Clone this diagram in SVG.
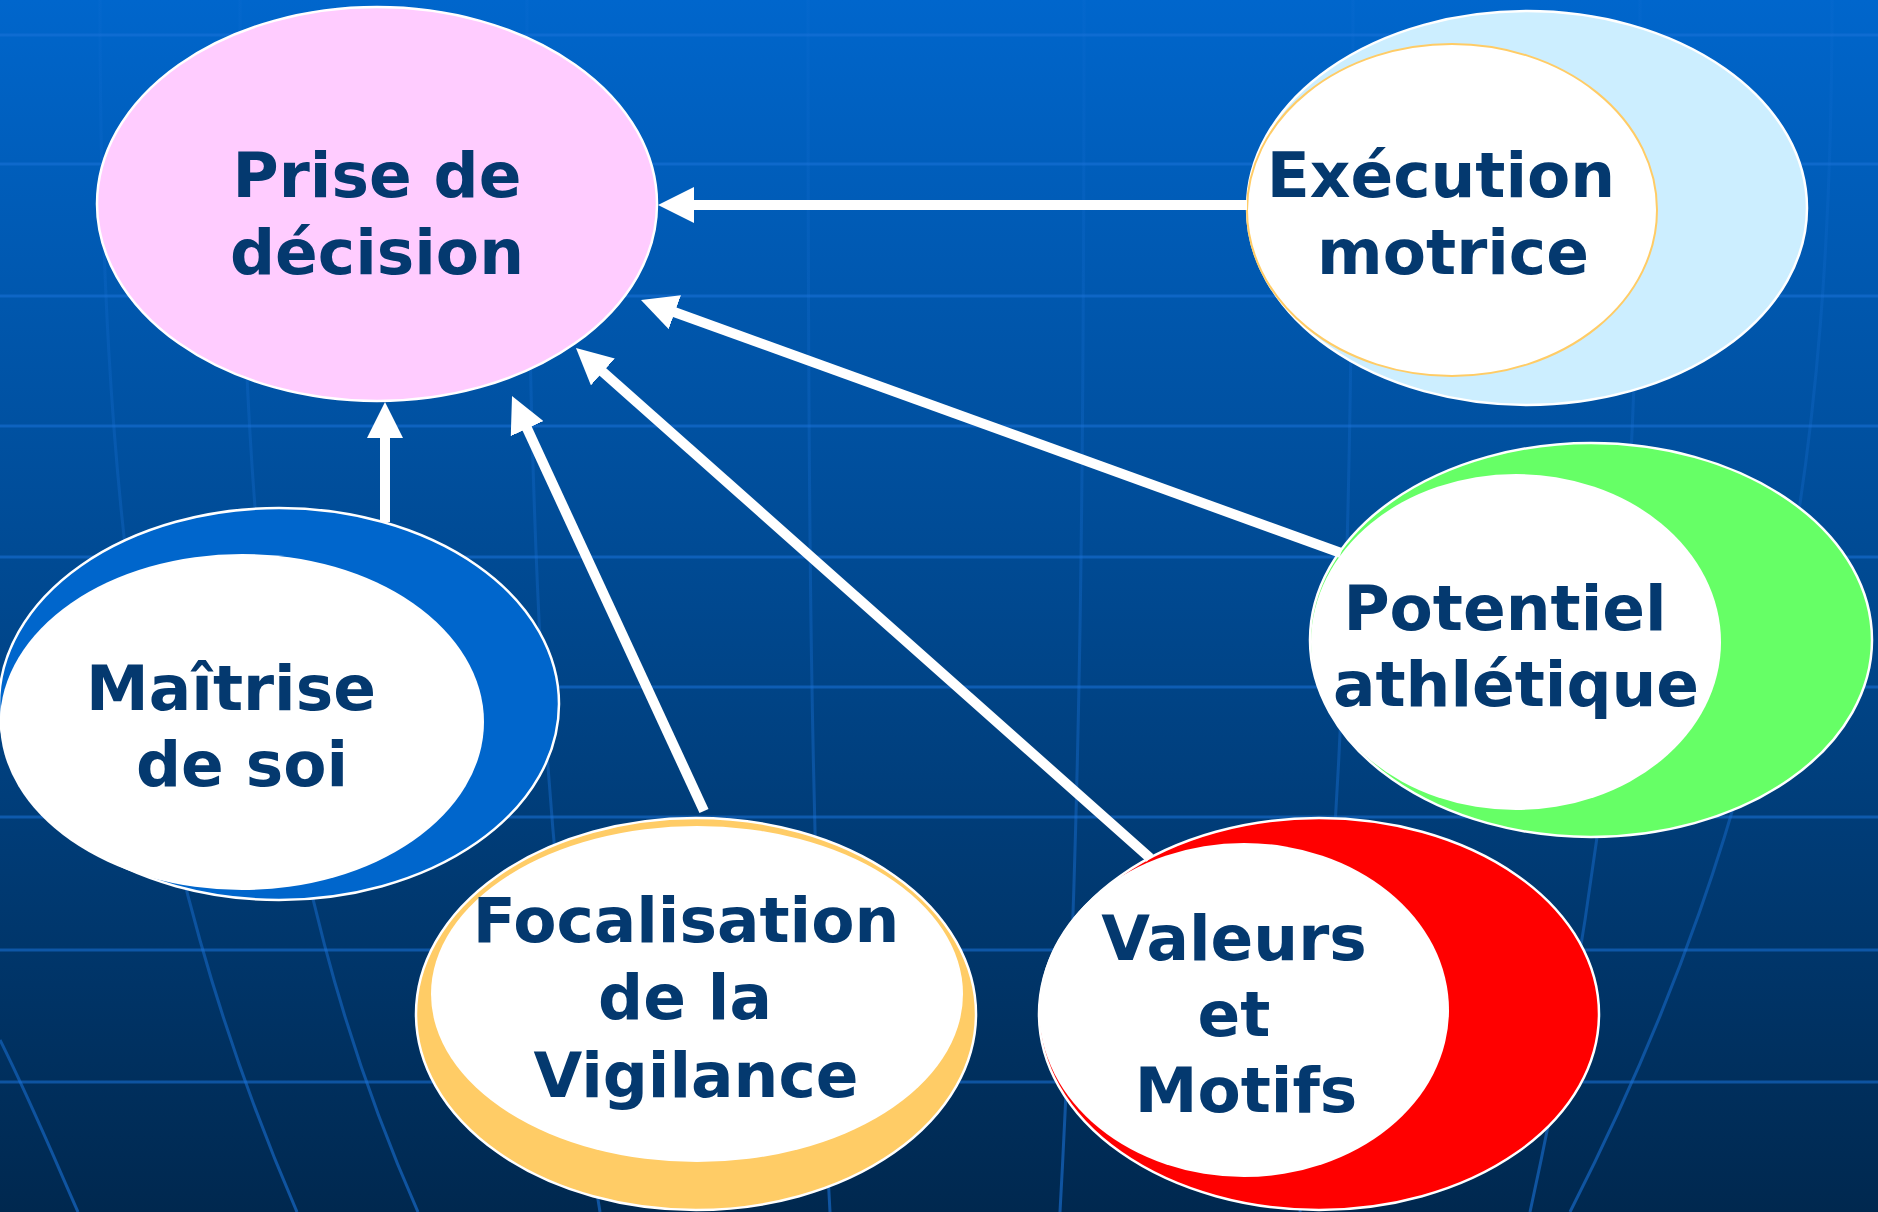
<svg xmlns="http://www.w3.org/2000/svg" width="1878" height="1212" viewBox="0 0 1878 1212">
<defs>
<linearGradient id="bg" x1="0" y1="0" x2="0" y2="1">
<stop offset="0" stop-color="#0066cc"/>
<stop offset="0.5" stop-color="#00488f"/>
<stop offset="1" stop-color="#00284f"/>
</linearGradient>
<linearGradient id="vgrid" gradientUnits="userSpaceOnUse" x1="0" y1="0" x2="0" y2="1212">
<stop offset="0" stop-color="#1a72d8" stop-opacity="0.12"/>
<stop offset="0.55" stop-color="#1a72d8" stop-opacity="0.35"/>
<stop offset="1" stop-color="#1a72d8" stop-opacity="0.6"/>
</linearGradient>
<marker id="arrow" markerUnits="userSpaceOnUse" markerWidth="36" markerHeight="36" viewBox="0 0 36 36" refX="6" refY="18" orient="auto">
<path d="M0,0 L36,18 L0,36 z" fill="#ffffff"/>
</marker>
<style>
.grid{fill:none;stroke:#1a72d8;stroke-opacity:0.55;stroke-width:3}
.vgrid{fill:none;stroke:url(#vgrid);stroke-width:3}
.outer{stroke:#ffffff;stroke-width:2.5}
.label{font-family:"DejaVu Sans","Verdana",sans-serif;font-weight:bold;font-size:63px;fill:#04396f;text-anchor:middle}
.conn{stroke:#ffffff;stroke-width:10;fill:none;marker-end:url(#arrow)}
</style>
</defs>
<rect x="0" y="0" width="1878" height="1212" fill="url(#bg)"/>
<g id="grid">
<path class="grid" d="M0 35H1878M0 164H1878M0 296H1878M0 426H1878M0 557H1878M0 687H1878M0 817H1878M0 950H1878M0 1082H1878"/>
<path class="vgrid" d="M100 0C100 500 140 850 297 1212"/>
<path class="vgrid" d="M240 0C240 500 262 860 418 1212"/>
<path class="vgrid" d="M0 1040C30 1100 55 1160 78 1212"/>
<path class="vgrid" d="M527 0C527 500 540 850 600 1212"/>
<path class="vgrid" d="M808 0C808 500 810 850 830 1212"/>
<path class="vgrid" d="M1084 0C1084 500 1080 850 1060 1212"/>
<path class="vgrid" d="M1353 0C1353 500 1345 850 1300 1212"/>
<path class="vgrid" d="M1640 0C1640 500 1620 800 1530 1212"/>
<path class="vgrid" d="M1832 0C1832 450 1780 800 1570 1212"/>
</g>
<g id="node-prise">
<ellipse class="outer" cx="377" cy="204" rx="280" ry="197" fill="#ffccff"/>
<text class="label" x="377" y="197">Prise de</text>
<text class="label" x="377" y="274">décision</text>
</g>
<g id="node-execution">
<ellipse class="outer" cx="1527" cy="208" rx="280" ry="197" fill="#cceeff"/>
<ellipse cx="1452" cy="210" rx="205" ry="166" fill="#ffffff" stroke="#ffcc66" stroke-width="2"/>
<text class="label" x="1441" y="197">Exécution</text>
<text class="label" x="1453" y="274">motrice</text>
</g>
<g id="node-maitrise">
<ellipse class="outer" cx="279" cy="704" rx="280" ry="196" fill="#0066cc"/>
<ellipse cx="242" cy="722" rx="242" ry="168" fill="#ffffff"/>
<text class="label" x="231" y="710">Maîtrise</text>
<text class="label" x="242" y="786">de soi</text>
</g>
<g id="node-focalisation">
<ellipse class="outer" cx="696" cy="1014" rx="280" ry="196" fill="#ffcc66"/>
<ellipse cx="697" cy="994" rx="266" ry="168" fill="#ffffff"/>
<text class="label" x="686" y="942">Focalisation</text>
<text class="label" x="685" y="1019">de la</text>
<text class="label" x="696" y="1097">Vigilance</text>
</g>
<g id="node-valeurs">
<ellipse class="outer" cx="1319" cy="1014" rx="280" ry="196" fill="#ff0000"/>
<ellipse cx="1244" cy="1010" rx="205" ry="167" fill="#ffffff"/>
<text class="label" x="1234" y="960">Valeurs</text>
<text class="label" x="1234" y="1036">et</text>
<text class="label" x="1246" y="1112">Motifs</text>
</g>
<g id="node-potentiel">
<ellipse class="outer" cx="1591" cy="640" rx="281" ry="197" fill="#66ff66"/>
<ellipse cx="1516" cy="642" rx="205" ry="168" fill="#ffffff"/>
<text class="label" x="1505" y="630">Potentiel</text>
<text class="label" x="1516" y="706">athlétique</text>
</g>
<g id="connectors">
<line class="conn" x1="1247" y1="205" x2="688" y2="205"/>
<line class="conn" x1="1341" y1="553" x2="669.2" y2="310.2"/>
<line class="conn" x1="1150" y1="858" x2="598.4" y2="367.9"/>
<line class="conn" x1="704" y1="811" x2="524.6" y2="423.2"/>
<line class="conn" x1="385" y1="522" x2="385" y2="432"/>
</g>
</svg>
